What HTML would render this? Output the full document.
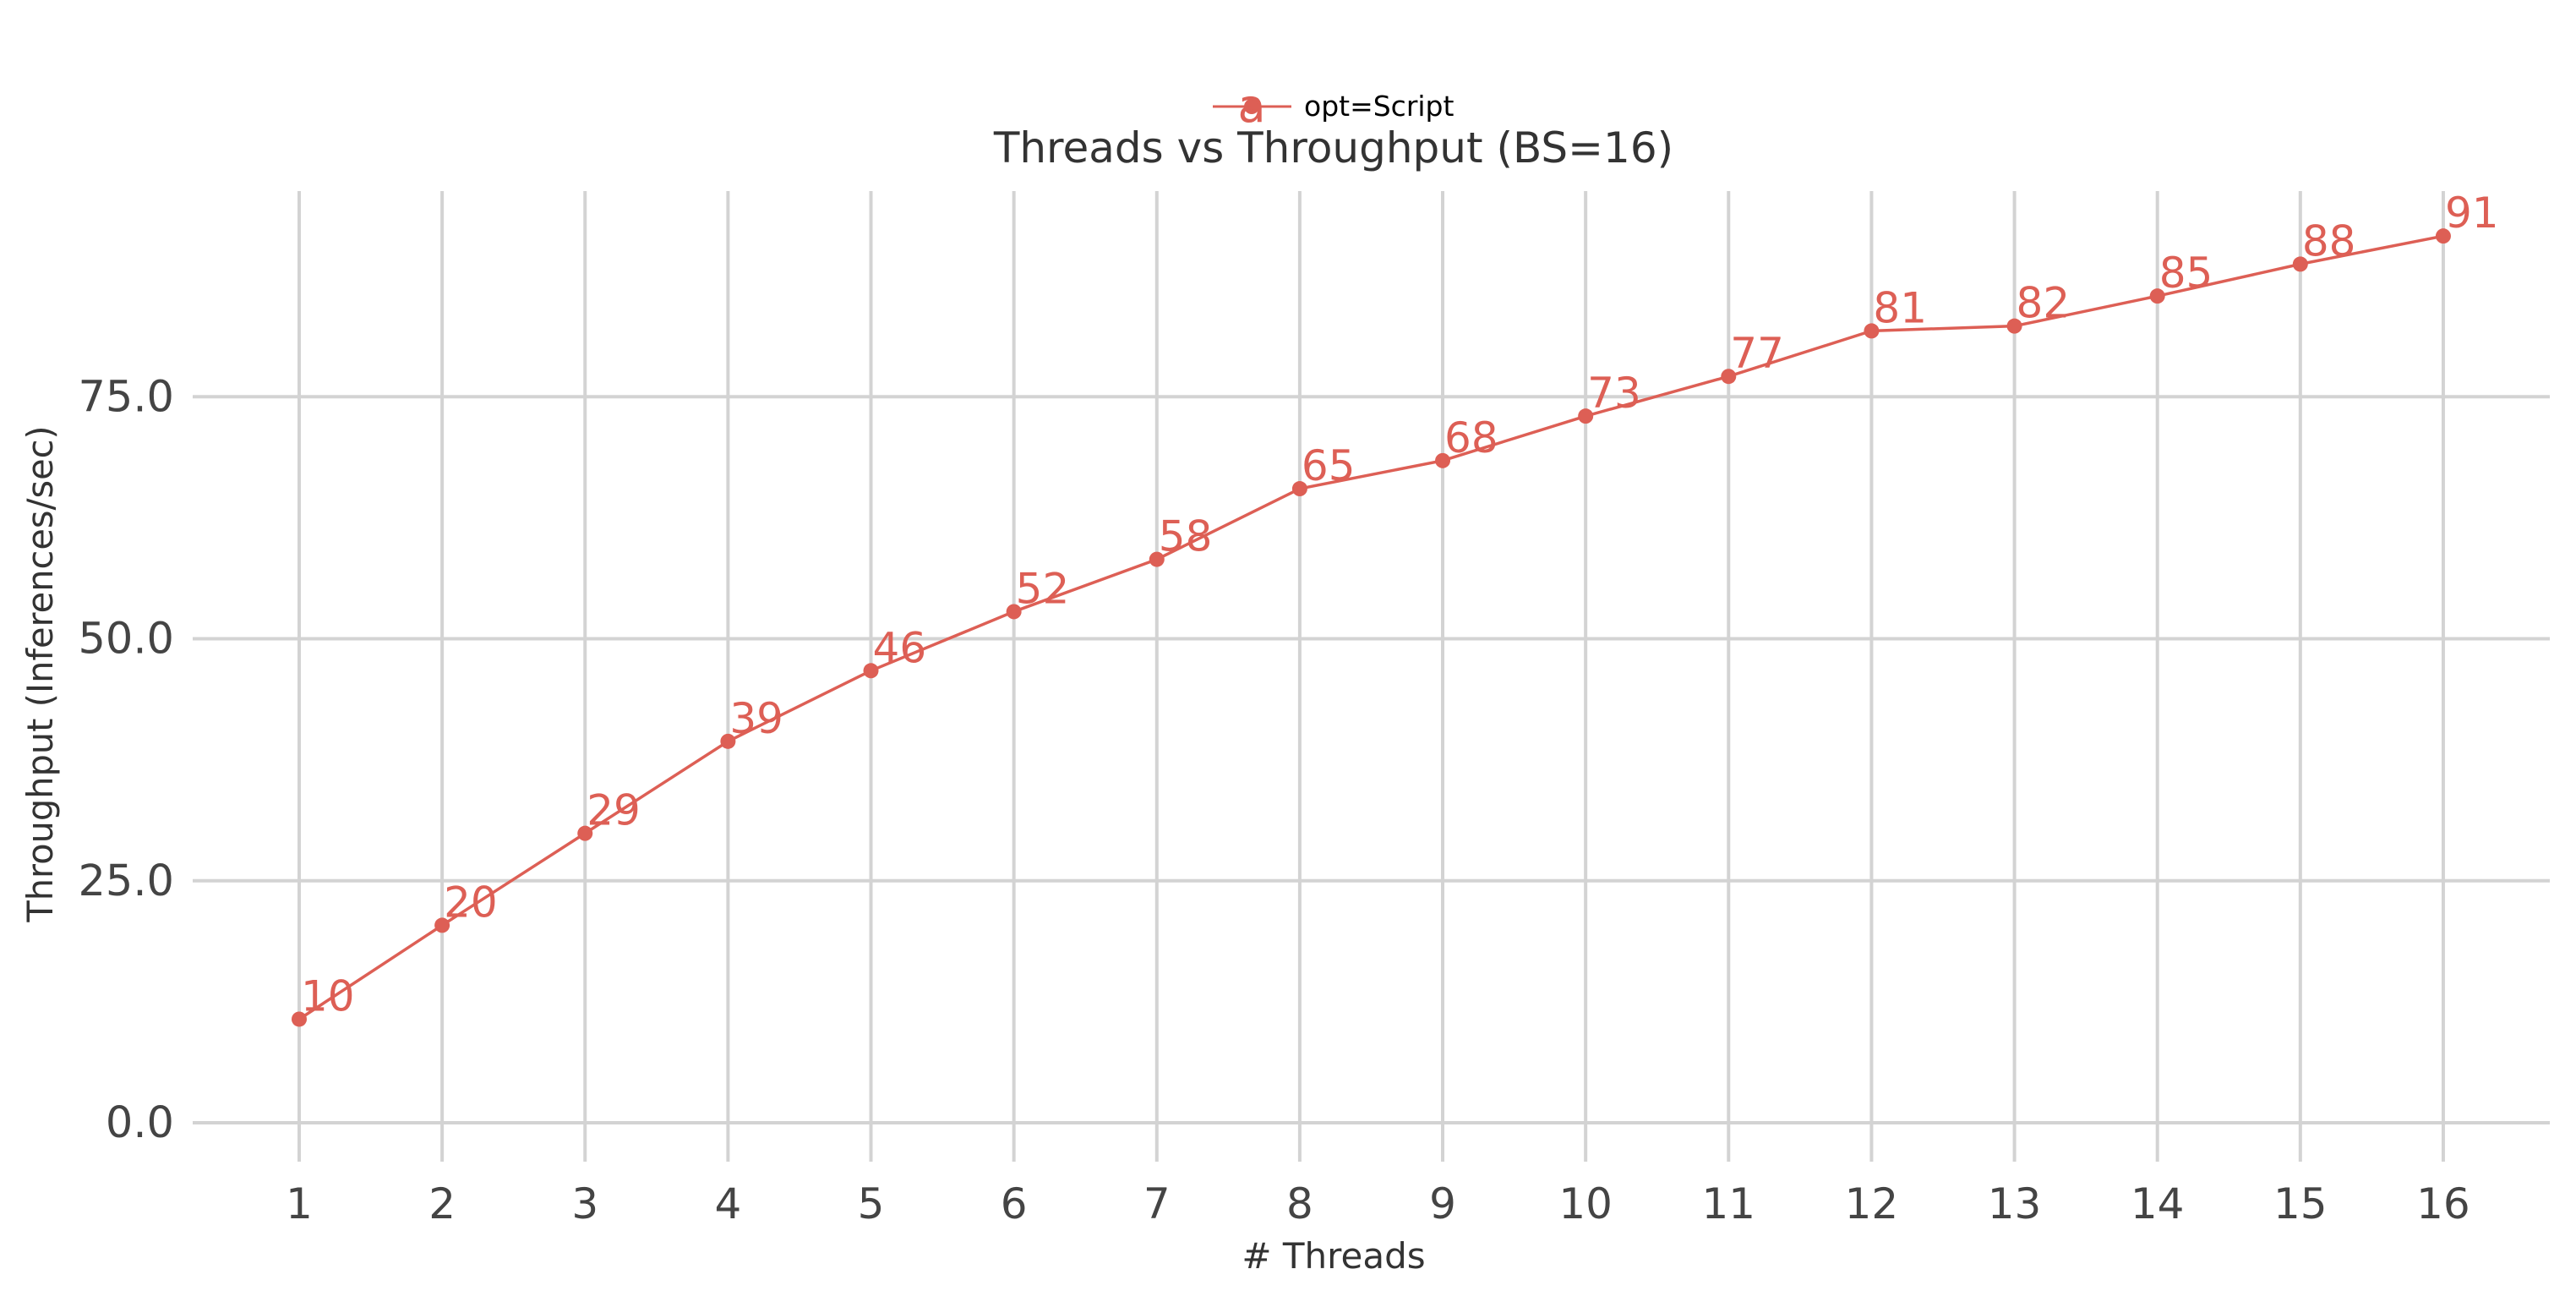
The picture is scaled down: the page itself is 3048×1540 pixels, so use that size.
<!DOCTYPE html>
<html><head><meta charset="utf-8"><style>
html,body{margin:0;padding:0;background:#fff;}
svg{display:block;font-family:"DejaVu Sans","Liberation Sans",sans-serif;}
</style></head><body>
<svg id="chart" width="3048" height="1540" viewBox="0 0 3048 1540">
<g id="grid"></g>
<g id="axes"></g>
<g id="series"></g>
<text x="1578" y="192" text-anchor="middle" font-size="50" fill="#333">Threads vs Throughput (BS=16)</text>
<text x="1578" y="1500" text-anchor="middle" font-size="42" fill="#333"># Threads</text>
<text x="0" y="0" transform="translate(62,797) rotate(-90)" text-anchor="middle" font-size="41.5" fill="#333">Throughput (Inferences/sec)</text>
<g>
<line x1="1435" y1="126" x2="1528" y2="126" stroke="#dd5f55" stroke-width="3"/>
<circle cx="1481" cy="126" r="9" fill="#dd5f55"/>
<text x="1481" y="144" text-anchor="middle" font-size="54" fill="#dd5f55">a</text>
<text x="1543" y="137" font-size="33" fill="#000">opt=Script</text>
</g>
</svg>
<script>
const threads = [1,2,3,4,5,6,7,8,9,10,11,12,13,14,15,16];
const throughput = [10.7,20.4,29.9,39.4,46.7,52.8,58.2,65.5,68.4,73.0,77.1,81.8,82.3,85.4,88.7,91.6];
const yTicks = [0,25,50,75];
const yTickLabels = ["0.0","25.0","50.0","75.0"];

const NS = "http://www.w3.org/2000/svg";
function x(v){ return 354 + (v-1)*169.13; }
function y(v){ return 1328 - v*11.45; }
function mk(tag, attrs, parent){
  const e = document.createElementNS(NS, tag);
  for (const k in attrs) e.setAttribute(k, attrs[k]);
  parent.appendChild(e); return e;
}
const grid = document.getElementById('grid');
const axes = document.getElementById('axes');
const series = document.getElementById('series');

threads.forEach(t => {
  const l = mk('line', {x1:x(t), x2:x(t), y1:226, y2:1374, stroke:'#d3d3d3', 'stroke-width':4}, grid);
  
  
  const tx = mk('text', {x:x(t), y:1441, 'text-anchor':'middle', 'font-size':50, fill:'#444'}, axes);
  tx.textContent = t;
  
  
});
yTicks.forEach((v,i) => {
  const l = mk('line', {x1:228, x2:3017, y1:y(v), y2:y(v), stroke:'#d3d3d3', 'stroke-width':4}, grid);
  
  
  const tx = mk('text', {x:206, y:y(v)+17, 'text-anchor':'end', 'font-size':51, fill:'#444'}, axes);
  tx.textContent = yTickLabels[i];
  
  
});
const pts = threads.map((t,i) => x(t)+','+y(throughput[i])).join(' ');
const pl = mk('polyline', {points:pts, fill:'none', stroke:'#dd5f55', 'stroke-width':3.5}, series);


threads.forEach((t,i) => {
  const c = mk('circle', {cx:x(t), cy:y(throughput[i]), r:9, fill:'#dd5f55'}, series);
  
  
  const tx = mk('text', {x:x(t)+2, y:y(throughput[i])-10, 'font-size':50, fill:'#dd5f55'}, series);
  tx.textContent = Math.floor(throughput[i]);
  
  
});
</script>
</body></html>
